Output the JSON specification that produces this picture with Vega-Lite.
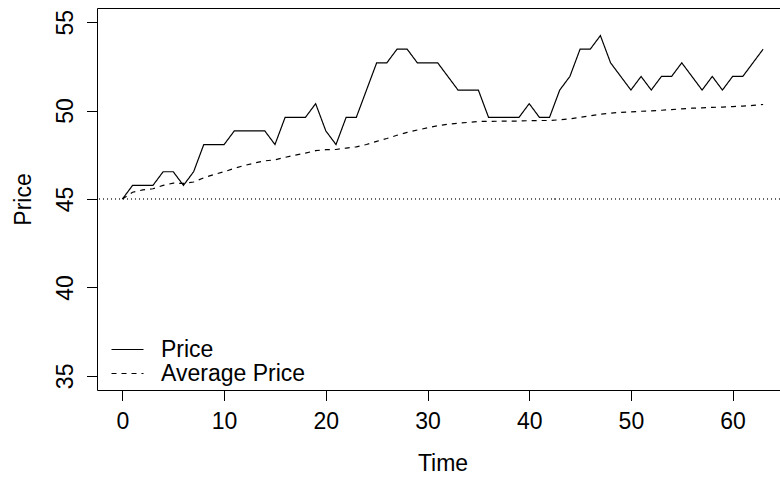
{
  "$schema": "https://vega.github.io/schema/vega-lite/v6.json",
  "width": 683,
  "height": 382,
  "autosize": {"type": "none"},
  "padding": {"left": 97, "top": 8, "right": 0, "bottom": 87},
  "background": "white",
  "config": {
    "font": "Liberation Sans",
    "view": {"stroke": null},
    "axis": {"grid": false, "domainColor": "black", "tickColor": "black", "labelColor": "black", "titleColor": "black", "labelFontSize": 23, "titleFontSize": 23, "titleFontWeight": "normal", "tickSize": 10.5, "domainWidth": 1, "tickWidth": 1}
  },
  "data": {"values": [
    {"t":0,"series":"Price","value":45},{"t":1,"series":"Price","value":45.77},{"t":2,"series":"Price","value":45.77},{"t":3,"series":"Price","value":45.77},
    {"t":4,"series":"Price","value":46.54},{"t":5,"series":"Price","value":46.54},{"t":6,"series":"Price","value":45.77},{"t":7,"series":"Price","value":46.54},
    {"t":8,"series":"Price","value":48.08},{"t":9,"series":"Price","value":48.08},{"t":10,"series":"Price","value":48.08},{"t":11,"series":"Price","value":48.85},
    {"t":12,"series":"Price","value":48.85},{"t":13,"series":"Price","value":48.85},{"t":14,"series":"Price","value":48.85},{"t":15,"series":"Price","value":48.08},
    {"t":16,"series":"Price","value":49.62},{"t":17,"series":"Price","value":49.62},{"t":18,"series":"Price","value":49.62},{"t":19,"series":"Price","value":50.39},
    {"t":20,"series":"Price","value":48.85},{"t":21,"series":"Price","value":48.08},{"t":22,"series":"Price","value":49.62},{"t":23,"series":"Price","value":49.62},
    {"t":24,"series":"Price","value":51.16},{"t":25,"series":"Price","value":52.70},{"t":26,"series":"Price","value":52.70},{"t":27,"series":"Price","value":53.47},
    {"t":28,"series":"Price","value":53.47},{"t":29,"series":"Price","value":52.70},{"t":30,"series":"Price","value":52.70},{"t":31,"series":"Price","value":52.70},
    {"t":32,"series":"Price","value":51.93},{"t":33,"series":"Price","value":51.16},{"t":34,"series":"Price","value":51.16},{"t":35,"series":"Price","value":51.16},
    {"t":36,"series":"Price","value":49.62},{"t":37,"series":"Price","value":49.62},{"t":38,"series":"Price","value":49.62},{"t":39,"series":"Price","value":49.62},
    {"t":40,"series":"Price","value":50.39},{"t":41,"series":"Price","value":49.62},{"t":42,"series":"Price","value":49.62},{"t":43,"series":"Price","value":51.16},
    {"t":44,"series":"Price","value":51.93},{"t":45,"series":"Price","value":53.47},{"t":46,"series":"Price","value":53.47},{"t":47,"series":"Price","value":54.24},
    {"t":48,"series":"Price","value":52.70},{"t":49,"series":"Price","value":51.93},{"t":50,"series":"Price","value":51.16},{"t":51,"series":"Price","value":51.93},
    {"t":52,"series":"Price","value":51.16},{"t":53,"series":"Price","value":51.93},{"t":54,"series":"Price","value":51.93},{"t":55,"series":"Price","value":52.70},
    {"t":56,"series":"Price","value":51.93},{"t":57,"series":"Price","value":51.16},{"t":58,"series":"Price","value":51.93},{"t":59,"series":"Price","value":51.16},
    {"t":60,"series":"Price","value":51.93},{"t":61,"series":"Price","value":51.93},{"t":62,"series":"Price","value":52.70},{"t":63,"series":"Price","value":53.47},
    {"t":0,"series":"Average Price","value":45},{"t":1,"series":"Average Price","value":45.385},{"t":2,"series":"Average Price","value":45.513},{"t":3,"series":"Average Price","value":45.578},
    {"t":4,"series":"Average Price","value":45.77},{"t":5,"series":"Average Price","value":45.898},{"t":6,"series":"Average Price","value":45.88},{"t":7,"series":"Average Price","value":45.963},
    {"t":8,"series":"Average Price","value":46.198},{"t":9,"series":"Average Price","value":46.386},{"t":10,"series":"Average Price","value":46.54},{"t":11,"series":"Average Price","value":46.733},
    {"t":12,"series":"Average Price","value":46.895},{"t":13,"series":"Average Price","value":47.035},{"t":14,"series":"Average Price","value":47.156},{"t":15,"series":"Average Price","value":47.214},
    {"t":16,"series":"Average Price","value":47.355},{"t":17,"series":"Average Price","value":47.481},{"t":18,"series":"Average Price","value":47.594},{"t":19,"series":"Average Price","value":47.734},
    {"t":20,"series":"Average Price","value":47.787},{"t":21,"series":"Average Price","value":47.8},{"t":22,"series":"Average Price","value":47.879},{"t":23,"series":"Average Price","value":47.952},
    {"t":24,"series":"Average Price","value":48.08},{"t":25,"series":"Average Price","value":48.258},{"t":26,"series":"Average Price","value":48.422},{"t":27,"series":"Average Price","value":48.603},
    {"t":28,"series":"Average Price","value":48.77},{"t":29,"series":"Average Price","value":48.901},{"t":30,"series":"Average Price","value":49.024},{"t":31,"series":"Average Price","value":49.139},
    {"t":32,"series":"Average Price","value":49.223},{"t":33,"series":"Average Price","value":49.28},{"t":34,"series":"Average Price","value":49.334},{"t":35,"series":"Average Price","value":49.385},
    {"t":36,"series":"Average Price","value":49.391},{"t":37,"series":"Average Price","value":49.397},{"t":38,"series":"Average Price","value":49.403},{"t":39,"series":"Average Price","value":49.408},
    {"t":40,"series":"Average Price","value":49.432},{"t":41,"series":"Average Price","value":49.437},{"t":42,"series":"Average Price","value":49.441},{"t":43,"series":"Average Price","value":49.48},
    {"t":44,"series":"Average Price","value":49.534},{"t":45,"series":"Average Price","value":49.62},{"t":46,"series":"Average Price","value":49.702},{"t":47,"series":"Average Price","value":49.796},
    {"t":48,"series":"Average Price","value":49.856},{"t":49,"series":"Average Price","value":49.897},{"t":50,"series":"Average Price","value":49.922},{"t":51,"series":"Average Price","value":49.961},
    {"t":52,"series":"Average Price","value":49.983},{"t":53,"series":"Average Price","value":50.019},{"t":54,"series":"Average Price","value":50.054},{"t":55,"series":"Average Price","value":50.101},
    {"t":56,"series":"Average Price","value":50.133},{"t":57,"series":"Average Price","value":50.151},{"t":58,"series":"Average Price","value":50.181},{"t":59,"series":"Average Price","value":50.198},
    {"t":60,"series":"Average Price","value":50.226},{"t":61,"series":"Average Price","value":50.253},{"t":62,"series":"Average Price","value":50.292},{"t":63,"series":"Average Price","value":50.342}
  ]},
  "layer": [
    {
      "mark": {"type": "rule", "color": "#666666", "strokeWidth": 1, "strokeDash": [1, 3]},
      "encoding": {"y": {"datum": 45, "type": "quantitative", "scale": {"domain": [34.2, 55.8], "nice": false, "zero": false},
        "axis": {"values": [35, 40, 45, 50, 55], "labelAngle": -90, "labelAlign": "center", "labelBaseline": "alphabetic", "labelPadding": 14.5, "title": "Price", "titleAngle": -90, "titleBaseline": "alphabetic", "titleAlign": "center", "titleX": -67, "titleY": 191}}}
    },
    {
      "mark": {"type": "line", "color": "black", "strokeWidth": 1.2, "clip": true},
      "encoding": {
        "x": {"field": "t", "type": "quantitative", "scale": {"domain": [-2.5, 64.66], "nice": false, "zero": false},
          "axis": {"orient": "bottom", "values": [0, 10, 20, 30, 40, 50, 60], "labelPadding": 10, "title": "Time", "titleBaseline": "top", "titleX": 345.5, "titleY": 62.4, "titleAlign": "center"}},
        "y": {"field": "value", "type": "quantitative", "scale": {"domain": [34.2, 55.8], "nice": false, "zero": false},
          "axis": {"values": [35, 40, 45, 50, 55], "labelAngle": -90, "labelAlign": "center", "labelBaseline": "alphabetic", "labelPadding": 14.5, "title": "Price", "titleAngle": -90, "titleBaseline": "alphabetic", "titleAlign": "center", "titleX": -67, "titleY": 191}},
        "detail": {"field": "series"},
        "strokeDash": {"field": "series", "type": "nominal", "scale": {"domain": ["Price", "Average Price"], "range": [[1, 0], [5, 5]]},
          "legend": {"title": null, "orient": "none", "legendX": 19, "legendY": 330, "padding": 0, "symbolType": "M-1.6,0H1.6", "symbolSize": 400, "symbolStrokeColor": "black", "symbolStrokeWidth": 1.2, "labelFontSize": 23, "labelColor": "black", "labelOffset": 22, "rowPadding": -4}}
      }
    },
    {
      "mark": {"type": "point", "opacity": 0},
      "encoding": {
        "x": {"field": "t", "type": "quantitative", "axis": {"orient": "top", "labels": false, "ticks": false, "title": null, "domain": true}}
      }
    }
  ]
}
